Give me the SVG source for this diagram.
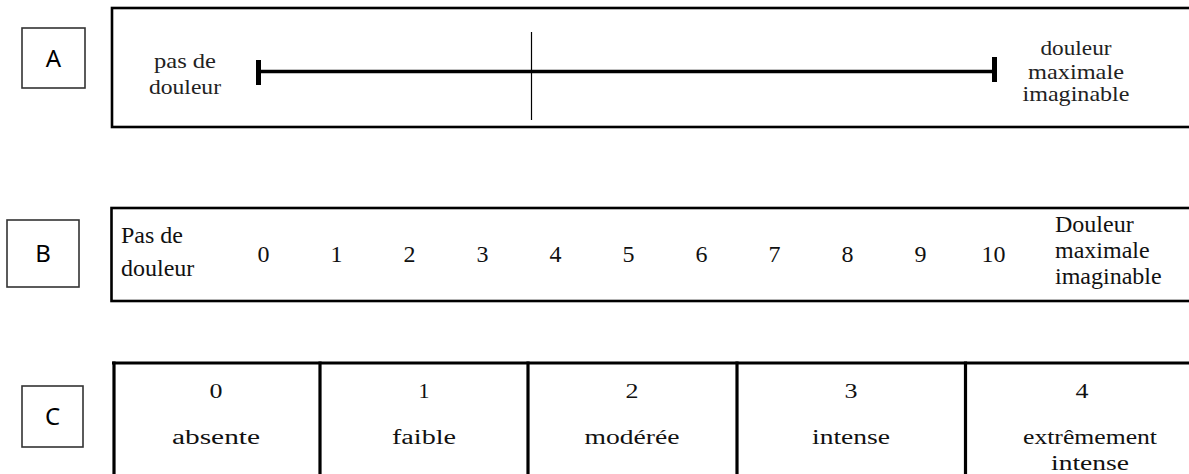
<svg xmlns="http://www.w3.org/2000/svg" width="1189" height="474" viewBox="0 0 1189 474">
<style>
.lab{fill:#fff;stroke:#333;stroke-width:1.6}
.labt{font-family:'Noto Sans','Liberation Sans',sans-serif;font-size:24px;fill:#000;text-anchor:middle}
.frame{fill:none;stroke:#000;stroke-width:2.6}
.ln{stroke:#000;fill:none}
</style>
<rect width="1189" height="474" fill="#fff"/>

<g id="labelA"><rect class="lab" x="22" y="28" width="63" height="60"/><text class="labt" x="53.5" y="66.5">A</text></g>
<g id="labelB"><rect class="lab" x="7" y="220" width="72" height="67"/><text class="labt" x="43" y="262">B</text></g>
<g id="labelC"><rect class="lab" x="22" y="386" width="61" height="61"/><text class="labt" x="52.5" y="425">C</text></g>

<g id="scaleA">
<rect class="frame" x="112" y="8" width="1090" height="119"/>
<line class="ln" x1="259" y1="71.5" x2="994" y2="71.5" stroke-width="3.5"/>
<line class="ln" x1="258.5" y1="60" x2="258.5" y2="85" stroke-width="5"/>
<line class="ln" x1="994.5" y1="57" x2="994.5" y2="82" stroke-width="5"/>
<line class="ln" x1="531.5" y1="32" x2="531.5" y2="120" stroke-width="1.2"/>
<g font-family="Liberation Serif, Times New Roman, DejaVu Serif, serif" font-size="21" fill="#222" text-anchor="middle">
<text x="185" y="68" textLength="62" lengthAdjust="spacingAndGlyphs">pas de</text>
<text x="185" y="94" textLength="72" lengthAdjust="spacingAndGlyphs">douleur</text>
<text x="1076" y="55" textLength="71" lengthAdjust="spacingAndGlyphs">douleur</text>
<text x="1076" y="79" textLength="96" lengthAdjust="spacingAndGlyphs">maximale</text>
<text x="1076" y="101" textLength="107" lengthAdjust="spacingAndGlyphs">imaginable</text>
</g>
</g>

<g id="scaleB">
<rect class="frame" x="111.5" y="208" width="1090" height="93"/>
<g font-family="Liberation Serif, Times New Roman, DejaVu Serif, serif" font-size="24" fill="#111">
<text x="121" y="243">Pas de</text>
<text x="121" y="276">douleur</text>
<g text-anchor="middle">
<text x="263.5" y="262">0</text>
<text x="336.5" y="262">1</text>
<text x="409.5" y="262">2</text>
<text x="482.5" y="262">3</text>
<text x="555.5" y="262">4</text>
<text x="628.5" y="262">5</text>
<text x="701.5" y="262">6</text>
<text x="774.5" y="262">7</text>
<text x="847.5" y="262">8</text>
<text x="920.5" y="262">9</text>
<text x="993.5" y="262">10</text>
</g>
<text x="1055" y="232">Douleur</text>
<text x="1055" y="258">maximale</text>
<text x="1055" y="284">imaginable</text>
</g>
</g>

<g id="scaleC">
<g class="ln" stroke-width="3.2">
<line x1="112" y1="363" x2="1190" y2="363"/>
<line x1="114" y1="361.5" x2="114" y2="476"/>
<line x1="320" y1="361.5" x2="320" y2="476"/>
<line x1="528" y1="361.5" x2="528" y2="476"/>
<line x1="737" y1="361.5" x2="737" y2="476"/>
<line x1="965.5" y1="361.5" x2="965.5" y2="476"/>
</g>
<g font-family="Liberation Serif, Times New Roman, DejaVu Serif, serif" font-size="20" fill="#111" text-anchor="middle">
<g id="c0"><text x="216" y="398" textLength="13" lengthAdjust="spacingAndGlyphs">0</text><text x="216" y="444" textLength="88" lengthAdjust="spacingAndGlyphs">absente</text></g>
<g id="c1"><text x="424" y="398" textLength="11" lengthAdjust="spacingAndGlyphs">1</text><text x="424" y="444" textLength="64" lengthAdjust="spacingAndGlyphs">faible</text></g>
<g id="c2"><text x="632" y="398" textLength="13" lengthAdjust="spacingAndGlyphs">2</text><text x="632" y="444" textLength="95" lengthAdjust="spacingAndGlyphs">modérée</text></g>
<g id="c3"><text x="851" y="398" textLength="13" lengthAdjust="spacingAndGlyphs">3</text><text x="851" y="444" textLength="78" lengthAdjust="spacingAndGlyphs">intense</text></g>
<g id="c4"><text x="1082" y="398" textLength="13" lengthAdjust="spacingAndGlyphs">4</text><text x="1090" y="444" textLength="134" lengthAdjust="spacingAndGlyphs">extrêmement</text><text x="1090" y="470" textLength="78" lengthAdjust="spacingAndGlyphs">intense</text></g>
</g>
</g>
</svg>
